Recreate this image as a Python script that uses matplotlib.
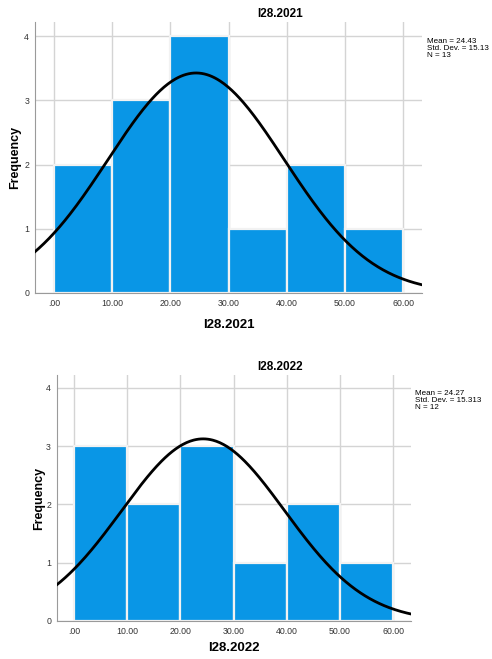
import numpy as np
import matplotlib.pyplot as plt

plt.rcParams['font.family'] = ['Liberation Sans', 'DejaVu Sans']

# data
bin_edges = [0, 10, 20, 30, 40, 50, 60]
counts_2021 = [2, 3, 4, 1, 2, 1]
counts_2022 = [3, 2, 3, 1, 2, 1]
stats_2021 = {'mean': 24.43, 'sd': 15.13, 'n': 13, 'sd_txt': '15.13'}
stats_2022 = {'mean': 24.27, 'sd': 15.313, 'n': 12, 'sd_txt': '15.313'}
xtick_vals = [0, 10, 20, 30, 40, 50, 60]
xtick_labels = ['.00', '10.00', '20.00', '30.00', '40.00', '50.00', '60.00']

bar_color = '#0996e6'
grid_color = '#d4d4d4'


def draw_hist(ax, counts, st, name, stats_x, title_y, xpad, ypad):
    edges = np.array(bin_edges)
    w = np.diff(edges)
    ax.bar(edges[:-1], counts, width=w, align='edge', color=bar_color,
           edgecolor='#f2f2f2', linewidth=1.6, zorder=2)
    x = np.linspace(-3.5, 63.5, 300)
    pdf = np.exp(-0.5 * ((x - st['mean']) / st['sd']) ** 2) / (st['sd'] * np.sqrt(2 * np.pi))
    ax.plot(x, st['n'] * 10 * pdf, color='black', lw=2, zorder=3)
    ax.set_xlim(-3.3, 63.3)
    ax.set_ylim(0, 4.22)
    ax.set_xticks(xtick_vals)
    ax.set_xticklabels(xtick_labels)
    ax.set_yticks([0, 1, 2, 3, 4])
    ax.tick_params(labelsize=6.3, length=0, colors='#333333', pad=4)
    ax.grid(True, color=grid_color, lw=1, zorder=0)
    ax.set_axisbelow(True)
    for s in ['top', 'right']:
        ax.spines[s].set_visible(False)
    for s in ['left', 'bottom']:
        ax.spines[s].set_color('#9a9a9a')
    fig.text(0.569, title_y, name, fontsize=8.5, fontweight='bold',
             ha='center', va='center')
    ax.set_xlabel(name, fontsize=9.5, fontweight='bold', labelpad=xpad)
    ax.set_ylabel('Frequency', fontsize=9, fontweight='bold', labelpad=ypad)
    txt = 'Mean = %.2f\nStd. Dev. = %s\nN = %d' % (st['mean'], st['sd_txt'], st['n'])
    ax.text(stats_x, 0.94, txt, transform=ax.transAxes, fontsize=5.8,
            va='top', ha='left', linespacing=1.0)


fig = plt.figure(figsize=(4.92, 6.59), dpi=100)
ax1 = fig.add_axes([0.0705, 0.5554, 0.788, 0.411])
ax2 = fig.add_axes([0.115, 0.0577, 0.7195, 0.373])

draw_hist(ax1, counts_2021, stats_2021, 'I28.2021', 1.013, 0.979, 8, 2)
draw_hist(ax2, counts_2022, stats_2022, 'I28.2022', 1.012, 0.443, 5, 1)

fig.savefig('out.png', dpi=100)
